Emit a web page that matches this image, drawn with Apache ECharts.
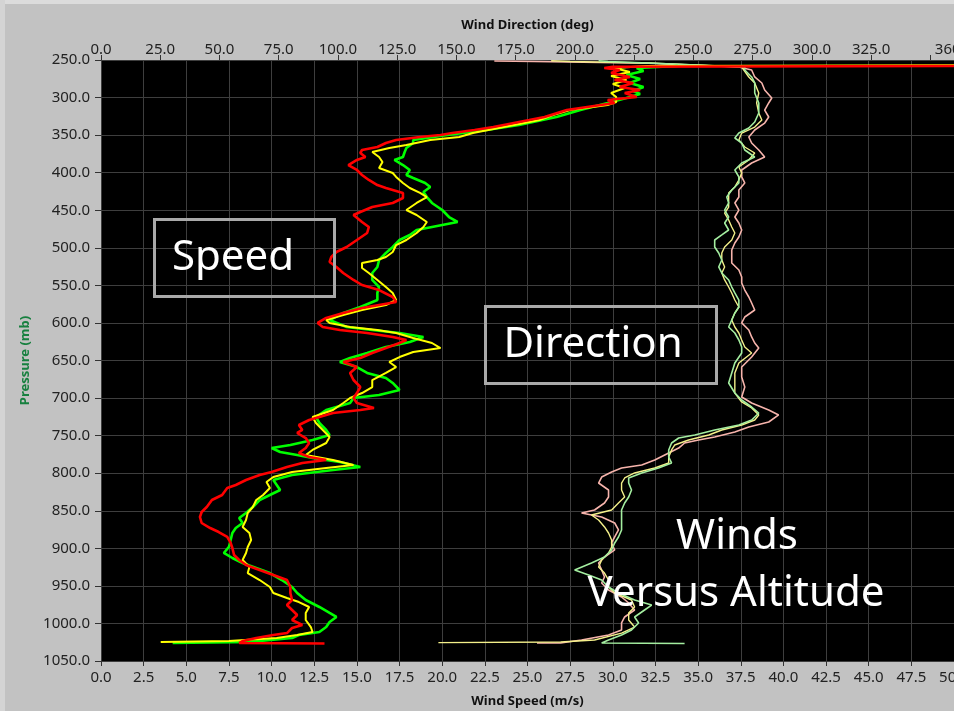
<!DOCTYPE html>
<html>
<head>
<meta charset="utf-8">
<script src="https://cdn.jsdelivr.net/npm/echarts@6/dist/echarts.min.js"></script>
<style>
  html, body { margin: 0; padding: 0; background: #c2c2c2; }
  #chart { width: 954px; height: 711px; }
</style>
</head>
<body>
<div id="chart"></div>
<script>
// Upper-air wind profile: three soundings, each giving speed (bottom axis)
// and direction (top axis) against pressure level (left axis, inverted).
// Every profile is a list of [pressure mb, value] pairs.

const pressureRange = [250, 1050, 50];   // min, max, step (mb)
const speedRange = [0, 50, 2.5];         // m/s
const directionRange = [0, 360, 25];     // deg

const speedRed = [
  [257.5, 60], [259, 30.0], [260.6, 29.5], [263.3, 30.4], [267.3, 29.9], [272.6, 31.0], [276.6, 30.1],
  [280.6, 31.2], [285.9, 30.4], [289.9, 31.6], [293.9, 30.7], [299.3, 31.4], [303.2, 29.7], [307.2, 30.1],
  [316.6, 27.3], [325.9, 26.0], [329.9, 25.1], [339.2, 23.0], [343.2, 21.9], [347.2, 20.6], [349.8, 19.9],
  [352.5, 18.7], [356.5, 17.3], [360.5, 16.7], [365.8, 16.2], [369.8, 15.3], [373.8, 15.2], [379.1, 15.5],
  [383.1, 15.0], [389.8, 14.5], [396.4, 15.0], [403.1, 15.3], [409.7, 15.7], [416.4, 16.2], [420.4, 16.7],
  [427.0, 17.7], [433.7, 17.7], [440.3, 17.1], [445.7, 15.9], [452.3, 15.2], [456.3, 14.8], [465.6, 15.3],
  [472.3, 15.7], [480.3, 15.6], [489.6, 15.0], [498.9, 14.4], [505.6, 13.8], [512.2, 13.5], [518.9, 13.4],
  [525.5, 13.8], [533.5, 14.2], [542.8, 14.8], [549.5, 15.3], [556.2, 16.3], [565.5, 17.1], [572.1, 17.3],
  [576.1, 16.3], [580.1, 15.3], [586.8, 14.2], [593.4, 13.2], [600.0, 12.7], [605.4, 13.0], [609.4, 14.0],
  [613.4, 15.6], [618.7, 17.1], [622.7, 17.9], [626.7, 17.5], [633.4, 16.7], [640.0, 15.9], [646.7, 15.2],
  [652.0, 14.2], [658.7, 15.0], [666.6, 14.6], [676.0, 14.8], [685.3, 15.2], [693.3, 15.0], [699.9, 14.8],
  [706.6, 15.0], [713.2, 16.0], [715.9, 15.2], [719.9, 13.6], [729.2, 12.2], [735.9, 11.6], [742.5, 11.8],
  [746.5, 11.5], [753.2, 12.0], [759.8, 12.2], [766.5, 12.0], [773.1, 11.6], [778.5, 12.2], [782.4, 13.2],
  [786.4, 11.8], [791.8, 10.9], [798.4, 10.0], [802.4, 9.3], [809.1, 8.5], [815.7, 7.9], [819.7, 7.4],
  [829.0, 7.1], [835.7, 6.5], [845.0, 6.2], [851.7, 5.9], [858.3, 5.8], [866.3, 5.9], [873.0, 6.4],
  [878.3, 6.9], [884.9, 7.4], [892.9, 7.6], [899.6, 7.7], [908.9, 7.8], [915.5, 8.1], [922.2, 8.5],
  [928.9, 9.3], [935.5, 10.1], [942.2, 10.9], [951.5, 11.1], [959.5, 11.1], [968.8, 11.2], [975.5, 10.9],
  [982.1, 11.2], [988.8, 11.5], [995.4, 11.2], [1002.1, 11.8], [1006.1, 11.2], [1012.8, 10.9], [1015.4, 10.1],
  [1019.4, 9.1], [1023.4, 8.3], [1026.1, 8.1], [1026.7, 13.1]
];

const speedYellow = [
  [256.5, 60], [258.0, 32.0], [260.6, 30.1], [266.0, 31.0], [271.3, 29.9], [276.6, 30.8], [282.0, 30.0],
  [287.3, 30.7], [293.9, 29.9], [299.3, 30.2], [305.9, 30.2], [309.9, 29.7], [316.6, 27.5], [323.2, 26.5],
  [329.9, 25.7], [339.2, 23.6], [347.2, 21.8], [352.5, 21.0], [356.5, 19.3], [363.1, 17.9], [367.1, 16.9],
  [372.5, 15.9], [379.1, 16.3], [385.8, 16.5], [393.8, 16.3], [400.4, 17.1], [405.7, 17.3], [413.7, 17.7],
  [420.4, 18.1], [427.0, 18.7], [432.4, 19.1], [440.3, 18.5], [449.7, 17.9], [456.3, 18.5], [465.6, 19.1],
  [472.3, 18.9], [480.3, 18.5], [489.6, 17.9], [496.3, 17.3], [505.6, 17.1], [512.2, 16.7], [516.2, 16.2],
  [520.2, 15.3], [526.9, 15.3], [533.5, 15.7], [542.8, 16.2], [552.2, 16.7], [560.1, 17.1], [569.5, 17.3],
  [576.1, 16.7], [582.8, 15.3], [589.4, 14.2], [596.1, 13.2], [600.0, 13.4], [605.4, 14.6], [609.4, 16.2],
  [613.4, 17.3], [620.0, 18.3], [626.7, 19.4], [633.4, 19.9], [638.7, 18.3], [645.4, 17.5], [652.0, 16.9],
  [658.7, 17.3], [666.6, 16.7], [676.0, 15.9], [685.3, 15.9], [693.3, 15.3], [699.9, 14.6], [706.6, 14.2],
  [715.9, 13.6], [725.2, 12.4], [733.2, 12.6], [742.5, 13.0], [751.8, 13.4], [759.8, 13.2], [769.1, 12.4],
  [775.8, 12.0], [782.4, 13.6], [789.1, 14.8], [793.1, 13.2], [798.4, 11.2], [805.1, 10.1], [811.7, 9.7],
  [819.7, 9.9], [829.0, 9.5], [835.7, 9.1], [845.0, 8.9], [853.0, 8.6], [862.3, 8.5], [871.6, 8.3],
  [879.6, 8.7], [888.9, 8.8], [898.2, 8.6], [906.2, 8.5], [915.5, 8.3], [924.9, 8.7], [932.9, 8.6],
  [942.2, 9.3], [951.5, 9.9], [959.5, 10.1], [966.2, 10.9], [971.5, 11.6], [978.1, 12.2], [986.1, 12.0],
  [995.4, 12.0], [1004.8, 12.3], [1011.4, 12.4], [1015.4, 11.5], [1019.4, 10.3], [1023.4, 7.5], [1024.8, 3.5]
];

const speedGreen = [
  [258.0, 33.8], [260.6, 31.4], [264.6, 31.8], [270.0, 30.8], [275.3, 31.6], [280.6, 31.0], [285.9, 31.8],
  [291.3, 31.2], [295.3, 31.6], [300.6, 30.8], [307.2, 29.7], [316.6, 28.1], [325.9, 26.7], [336.5, 24.5],
  [343.2, 22.6], [349.8, 20.3], [356.5, 18.3], [360.5, 18.3], [367.1, 17.9], [372.5, 17.8], [379.1, 17.7],
  [383.1, 17.2], [389.8, 17.7], [396.4, 18.1], [403.1, 17.9], [407.1, 18.3], [413.7, 19.0], [419.0, 19.3],
  [425.7, 18.9], [432.4, 19.1], [440.3, 19.4], [449.7, 20.0], [459.0, 20.4], [465.6, 20.9], [472.3, 19.4],
  [476.3, 18.5], [482.9, 18.1], [489.6, 17.5], [498.9, 17.1], [506.9, 16.7], [516.2, 16.3], [525.5, 16.2],
  [533.5, 15.9], [542.8, 15.9], [552.2, 16.3], [560.1, 16.2], [569.5, 16.2], [578.8, 15.2], [586.8, 14.2],
  [596.1, 13.4], [605.4, 14.4], [609.4, 15.9], [613.4, 17.5], [618.7, 18.9], [625.4, 18.1], [632.0, 16.7],
  [640.0, 15.6], [646.7, 14.6], [652.0, 14.0], [658.7, 15.0], [666.6, 15.6], [673.3, 16.7], [679.9, 17.1],
  [689.3, 17.5], [695.9, 16.3], [699.9, 14.8], [706.6, 14.6], [715.9, 13.2], [725.2, 12.6], [733.2, 12.8],
  [742.5, 13.2], [749.2, 13.4], [755.8, 12.4], [762.5, 11.1], [766.5, 10.0], [771.8, 10.5], [775.8, 11.5],
  [779.8, 12.4], [785.1, 14.0], [791.8, 15.2], [795.8, 13.6], [802.4, 11.2], [809.1, 10.1], [815.7, 10.3],
  [822.4, 10.5], [829.0, 9.9], [835.7, 9.3], [845.0, 8.9], [853.0, 8.5], [859.7, 8.1], [866.3, 8.3],
  [873.0, 7.9], [879.6, 7.7], [888.9, 7.6], [898.2, 7.5], [906.2, 7.2], [912.9, 7.7], [919.5, 8.3],
  [926.2, 9.1], [932.9, 9.9], [942.2, 10.6], [951.5, 11.2], [959.5, 11.5], [968.8, 12.0], [978.1, 12.8],
  [986.1, 13.4], [991.4, 13.8], [998.1, 13.4], [1004.8, 13.2], [1011.4, 12.8], [1015.4, 11.6], [1019.4, 11.2],
  [1024.8, 8.7], [1026.1, 4.2]
];

const directionPink = [
  [251.3, 166], [252.0, 183], [253.5, 183], [254.3, 231], [259.3, 269.2], [263.3, 274.6], [272.6, 275.9],
  [280.6, 278.9], [289.9, 280.1], [300.6, 283.1], [307.2, 281.8], [316.6, 280.1], [325.9, 281.8], [333.9, 280.1],
  [343.2, 275.9], [352.5, 273.4], [360.5, 274.6], [369.8, 277.6], [379.1, 280.1], [387.1, 274.6], [396.4, 270.4],
  [405.7, 270.4], [413.7, 271.7], [423.0, 269.2], [432.4, 269.2], [440.3, 267.5], [449.7, 269.2], [459.0, 267.5],
  [467.0, 269.2], [476.3, 270.4], [485.6, 269.2], [493.6, 267.5], [502.9, 266.2], [512.2, 266.2], [520.2, 266.2],
  [529.5, 269.2], [538.9, 270.4], [546.8, 270.4], [556.2, 271.7], [565.5, 273.4], [573.5, 274.6], [582.8, 275.9],
  [592.1, 271.7], [600.0, 270.4], [609.4, 273.4], [618.7, 274.6], [626.7, 275.9], [633.4, 277.6], [645.4, 274.6],
  [658.7, 270.4], [672.0, 270.4], [685.3, 271.7], [698.6, 270.4], [706.6, 274.6], [715.9, 281.8], [722.5, 286.0],
  [731.9, 281.8], [738.5, 273.4], [745.2, 267.5], [751.8, 259.0], [755.8, 252.2], [759.8, 246.3], [766.5, 243.8],
  [773.1, 239.6], [782.4, 233.7], [789.1, 228.2], [793.1, 219.7], [798.4, 215.5], [805.1, 211.3], [813.1, 210.0],
  [822.4, 214.2], [831.7, 214.2], [839.7, 212.5], [849.0, 208.3], [853.0, 202.8], [858.3, 211.3], [866.3, 216.8],
  [875.6, 218.4], [884.9, 216.8], [892.9, 215.5], [902.2, 216.8], [911.6, 212.5], [919.5, 210.0], [928.9, 211.3],
  [938.2, 212.5], [946.2, 211.3], [955.5, 214.2], [964.8, 219.7], [972.8, 222.7], [982.1, 225.2], [991.4, 221.0],
  [999.4, 219.7], [1008.8, 219.7], [1015.4, 214.2], [1022.1, 202.8], [1026.0, 194], [1026.1, 184]
];

const directionYellow = [
  [251.0, 190], [252.0, 198], [254.0, 231], [259.3, 270.4], [263.3, 271.3], [272.6, 273.4], [280.6, 275.9],
  [293.9, 277.6], [307.2, 276.7], [320.5, 277.6], [329.9, 278.9], [339.2, 275.9], [347.2, 270.4], [356.5, 269.2],
  [365.8, 271.7], [373.8, 275.9], [383.1, 273.4], [392.4, 269.2], [400.4, 270.4], [409.7, 269.2], [419.0, 267.5],
  [427.0, 264.9], [436.4, 264.9], [445.7, 264.9], [453.7, 263.2], [463.0, 264.9], [472.3, 266.2], [480.3, 267.5],
  [489.6, 266.2], [498.9, 263.2], [506.9, 262.0], [516.2, 262.0], [525.5, 263.2], [533.5, 262.0], [542.8, 263.2],
  [552.2, 264.9], [560.1, 266.2], [569.5, 267.5], [578.8, 269.2], [586.8, 267.5], [596.1, 266.2], [605.4, 267.5],
  [613.4, 269.2], [622.7, 270.4], [632.0, 271.7], [640.0, 274.6], [653.3, 269.2], [666.6, 267.5], [679.9, 267.5],
  [693.3, 267.5], [705.2, 270.4], [713.2, 274.6], [722.5, 277.6], [729.2, 275.9], [735.9, 270.4], [742.5, 262.0],
  [749.2, 256.5], [755.8, 248.0], [762.5, 242.1], [769.1, 240.8], [778.5, 239.6], [786.4, 239.6], [793.1, 233.7],
  [799.7, 225.2], [806.4, 221.0], [813.1, 219.7], [822.4, 219.7], [831.7, 221.0], [839.7, 218.4], [849.0, 215.5],
  [855.7, 207.0], [862.3, 210.0], [871.6, 212.5], [879.6, 214.2], [888.9, 215.5], [898.2, 215.5], [906.2, 214.2],
  [915.5, 211.3], [924.9, 210.0], [932.9, 212.5], [942.2, 214.2], [951.5, 214.2], [959.5, 216.8], [968.8, 223.9],
  [978.1, 225.2], [986.1, 222.7], [995.4, 222.7], [1004.8, 225.2], [1012.8, 219.7], [1022.1, 208.3], [1024.8, 194],
  [1025.5, 142.4]
];

const directionGreen = [
  [251.0, 210], [252.0, 214], [254.0, 231], [259.3, 271.7], [263.3, 271.7], [272.6, 274.6], [280.6, 275.9],
  [293.9, 275.9], [307.2, 277.6], [320.5, 277.6], [332.5, 275.9], [340.5, 273.4], [347.2, 269.2], [353.8, 267.5],
  [360.5, 270.4], [369.8, 271.7], [379.1, 275.9], [387.1, 270.4], [396.4, 267.5], [405.7, 269.2], [413.7, 269.2],
  [423.0, 266.2], [432.4, 264.1], [440.3, 264.9], [449.7, 263.2], [459.0, 264.9], [467.0, 263.2], [476.3, 264.9],
  [482.9, 262.0], [489.6, 259.0], [498.9, 259.0], [506.9, 260.7], [516.2, 262.0], [525.5, 260.7], [533.5, 262.0],
  [542.8, 264.9], [552.2, 266.2], [560.1, 267.5], [569.5, 269.2], [578.8, 269.2], [586.8, 267.5], [596.1, 266.2],
  [605.4, 264.9], [613.4, 267.5], [622.7, 269.2], [632.0, 270.4], [640.0, 270.4], [653.3, 267.5], [666.6, 266.2],
  [679.9, 264.9], [693.3, 267.5], [702.6, 270.4], [711.9, 274.6], [719.9, 277.6], [729.2, 274.6], [735.9, 269.2],
  [742.5, 259.0], [749.2, 250.6], [753.2, 243.8], [759.8, 240.8], [769.1, 239.6], [778.5, 239.6], [786.4, 240.8],
  [793.1, 235.3], [799.7, 228.2], [806.4, 222.7], [813.1, 222.7], [822.4, 223.9], [831.7, 222.7], [839.7, 221.0],
  [849.0, 219.7], [858.3, 219.7], [866.3, 219.7], [875.6, 219.7], [884.9, 218.4], [892.9, 216.8], [902.2, 215.5],
  [911.6, 212.5], [919.5, 207.0], [928.9, 199.9], [935.5, 205.8], [942.2, 211.3], [951.5, 214.2], [959.5, 218.4],
  [968.8, 225.2], [975.5, 232.4], [982.1, 229.4], [991.4, 225.2], [999.4, 226.9], [1008.8, 223.9], [1015.4, 219.7],
  [1022.1, 214.2], [1026.1, 211.3], [1026.7, 246.3]
];

const tickFont = 'Noto Sans';
const fmt1 = v => Number(v).toFixed(1);

// pairs are [pressure, value]; the chart wants [value, pressure]
const toXY = pairs => pairs.map(([p, v]) => [v, p]);

function profile(name, pairs, color, width, axisIndex) {
  return {
    name, type: 'line', xAxisIndex: axisIndex, yAxisIndex: 0,
    data: toXY(pairs), showSymbol: false, symbol: 'none', clip: true,
    lineStyle: { color, width }, silent: true, animation: false
  };
}

const chart = echarts.init(document.getElementById('chart'), null, { renderer: 'canvas' });

chart.setOption({
  animation: false,
  backgroundColor: '#c2c2c2',
  grid: {
    left: 101, right: 0, top: 60, bottom: 50,
    outerBoundsMode: 'none', containLabel: false,
    show: true, backgroundColor: '#000000', borderWidth: 0
  },
  xAxis: [
    {
      type: 'value', position: 'bottom',
      min: speedRange[0], max: speedRange[1], interval: speedRange[2],
      name: 'Wind Speed (m/s)', nameLocation: 'middle', nameGap: 34,
      nameTextStyle: { fontFamily: tickFont, fontWeight: 'bold', fontSize: 13, color: '#111' },
      axisLine: { show: false },
      axisTick: { show: true, inside: false, length: 5, lineStyle: { color: '#333' } },
      axisLabel: { formatter: fmt1, fontFamily: tickFont, fontSize: 15, color: '#222', margin: 9, showMaxLabel: true },
      splitLine: { show: true, lineStyle: { color: '#3e3e3e', width: 1 } }
    },
    {
      type: 'value', position: 'top',
      min: directionRange[0], max: directionRange[1], interval: directionRange[2],
      name: 'Wind Direction (deg)', nameLocation: 'middle', nameGap: 28,
      nameTextStyle: { fontFamily: tickFont, fontWeight: 'bold', fontSize: 13, color: '#111' },
      axisLine: { show: false },
      axisTick: { show: true, inside: false, length: 5, lineStyle: { color: '#333' } },
      axisLabel: {
        formatter: v => (v === 350 ? '' : fmt1(v)),
        fontFamily: tickFont, fontSize: 15, color: '#222', margin: 3, showMaxLabel: true
      },
      splitLine: { show: false }
    }
  ],
  yAxis: [
    {
      type: 'value', inverse: true,
      min: pressureRange[0], max: pressureRange[1], interval: pressureRange[2],
      name: 'Pressure (mb)', nameLocation: 'middle', nameGap: 66, nameRotate: 90,
      nameTextStyle: { fontFamily: tickFont, fontWeight: 'bold', fontSize: 13, color: '#17803f' },
      axisLine: { show: false },
      axisTick: { show: true, inside: false, length: 6, lineStyle: { color: '#333' } },
      axisLabel: { formatter: fmt1, fontFamily: tickFont, fontSize: 15, color: '#222', margin: 11, showMinLabel: true, showMaxLabel: true },
      splitLine: { show: true, lineStyle: { color: '#3e3e3e', width: 1 } }
    }
  ],
  series: [
    profile('Direction 1', directionPink, '#f7b4ac', 1.6, 1),
    profile('Direction 2', directionYellow, '#f4f08a', 1.4, 1),
    profile('Direction 3', directionGreen, '#a4eea0', 1.6, 1),
    profile('Speed 3', speedGreen, '#00ff00', 2.6, 0),
    profile('Speed 2', speedYellow, '#ffff00', 2.0, 0),
    profile('Speed 1', speedRed, '#ff0000', 2.6, 0)
  ],
  graphic: [
    { type: 'rect', left: 0, top: 0, shape: { width: 954, height: 4 }, style: { fill: '#dcdcdc' }, silent: true },
    { type: 'rect', left: 0, top: 0, shape: { width: 5, height: 711 }, style: { fill: '#d4d4d4' }, silent: true },
    {
      type: 'rect', left: 153, top: 218, shape: { width: 180, height: 77 },
      style: { fill: 'transparent', stroke: '#a9a9a9', lineWidth: 3 }, z: 20
    },
    {
      type: 'text', x: 233, y: 258, z: 21,
      style: { text: 'Speed', fill: '#ffffff', font: '42px "Noto Sans"', align: 'center', verticalAlign: 'middle' }
    },
    {
      type: 'rect', left: 484, top: 305, shape: { width: 231, height: 77 },
      style: { fill: 'transparent', stroke: '#a9a9a9', lineWidth: 3 }, z: 20
    },
    {
      type: 'text', x: 593, y: 345, z: 21,
      style: { text: 'Direction', fill: '#ffffff', font: '42px "Noto Sans"', align: 'center', verticalAlign: 'middle' }
    },
    {
      type: 'text', x: 737, y: 537, z: 21,
      style: { text: 'Winds', fill: '#ffffff', font: '42px "Noto Sans"', align: 'center', verticalAlign: 'middle' }
    },
    {
      type: 'text', x: 736, y: 594, z: 21,
      style: { text: 'Versus Altitude', fill: '#ffffff', font: '42px "Noto Sans"', align: 'center', verticalAlign: 'middle' }
    }
  ]
});
</script>
</body>
</html>
